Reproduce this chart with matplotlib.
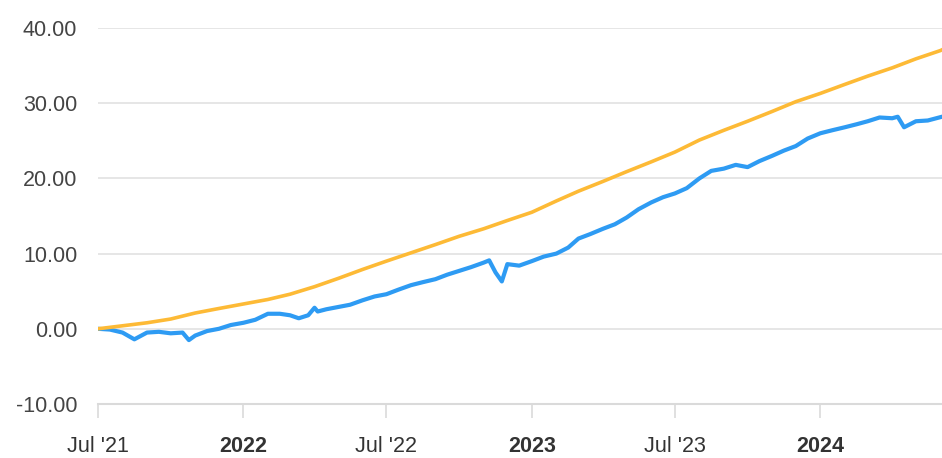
import matplotlib
matplotlib.use("Agg")
import matplotlib.pyplot as plt
import pandas as pd

plt.rcParams['font.family'] = ['Liberation Sans', 'DejaVu Sans']

# blue series
blue_dates = ["2021-07-01", "2021-07-16", "2021-08-01", "2021-08-16", "2021-09-01", "2021-09-16",
              "2021-10-01", "2021-10-16", "2021-10-24", "2021-11-01", "2021-11-16", "2021-12-01",
              "2021-12-16", "2022-01-01", "2022-01-16", "2022-02-01", "2022-02-16", "2022-03-01",
              "2022-03-12", "2022-03-24", "2022-04-01", "2022-04-05", "2022-04-16", "2022-05-01",
              "2022-05-16", "2022-06-01", "2022-06-16", "2022-07-01", "2022-07-16", "2022-08-01",
              "2022-08-16", "2022-09-01", "2022-09-16", "2022-10-01", "2022-10-16", "2022-11-01",
              "2022-11-08", "2022-11-16", "2022-11-24", "2022-12-01", "2022-12-16", "2023-01-01",
              "2023-01-16", "2023-02-01", "2023-02-16", "2023-03-01", "2023-03-16", "2023-04-01",
              "2023-04-16", "2023-05-01", "2023-05-16", "2023-06-01", "2023-06-16", "2023-07-01",
              "2023-07-16", "2023-08-01", "2023-08-16", "2023-09-01", "2023-09-16", "2023-10-01",
              "2023-10-16", "2023-11-01", "2023-11-16", "2023-12-01", "2023-12-16", "2024-01-01",
              "2024-01-16", "2024-02-01", "2024-02-16", "2024-03-01", "2024-03-16", "2024-04-01",
              "2024-04-08", "2024-04-16", "2024-05-01", "2024-05-16", "2024-06-03"]
blue_vals = [0.0, -0.1, -0.5, -1.4, -0.5, -0.4,
             -0.6, -0.5, -1.5, -0.9, -0.3, 0.0,
             0.5, 0.8, 1.2, 2.0, 2.0, 1.8,
             1.4, 1.8, 2.8, 2.3, 2.6, 2.9,
             3.2, 3.8, 4.3, 4.6, 5.2, 5.8,
             6.2, 6.6, 7.2, 7.7, 8.2, 8.8,
             9.1, 7.5, 6.3, 8.6, 8.4, 9.0,
             9.6, 10.0, 10.8, 12.0, 12.6, 13.3,
             13.9, 14.8, 15.9, 16.8, 17.5, 18.0,
             18.7, 20.0, 21.0, 21.3, 21.8, 21.5,
             22.3, 23.0, 23.7, 24.3, 25.3, 26.0,
             26.4, 26.8, 27.2, 27.6, 28.1, 28.0,
             28.2, 26.8, 27.6, 27.7, 28.2]

# orange series, monthly
orange_dates = pd.date_range("2021-07-01", "2024-06-01", freq="MS").tolist() + [pd.Timestamp("2024-06-03")]
orange_vals = [0.0, 0.4, 0.8, 1.3, 2.1, 2.7, 3.3, 3.9, 4.6, 5.6, 6.7, 7.9,
               9.0, 10.1, 11.2, 12.3, 13.3, 14.4, 15.5, 17.0, 18.3, 19.6, 20.9, 22.2,
               23.5, 25.1, 26.4, 27.6, 28.9, 30.2, 31.3, 32.5, 33.6, 34.7, 35.9, 37.0, 37.1]

tick_dates = ["2021-07-01", "2022-01-01", "2022-07-01", "2023-01-01", "2023-07-01", "2024-01-01"]
tick_labels = ["Jul '21", "2022", "Jul '22", "2023", "Jul '23", "2024"]
y_ticks = [-10, 0, 10, 20, 30, 40]

fig = plt.figure(figsize=(9.42, 4.58), dpi=100)
ax = fig.add_axes([98/942, 54/458, 844/942, 376/458])

ax.plot(pd.to_datetime(blue_dates), blue_vals, color='#2E9BF3', lw=3.0, zorder=3,
        solid_joinstyle='round')
ax.plot(orange_dates, orange_vals, color='#FDBA36', lw=2.6, zorder=4)

ax.set_xlim(pd.Timestamp("2021-07-01"), pd.Timestamp("2024-06-03"))
ax.set_ylim(-10, 40)
ax.set_yticks(y_ticks)
ax.set_yticklabels([f"{v:.2f}" for v in y_ticks])
ax.yaxis.grid(True, color='#e1e1e1', lw=1.2)
ax.set_axisbelow(True)

ax.set_xticks(pd.to_datetime(tick_dates))
ax.set_xticklabels(tick_labels)
for lab in ax.get_xticklabels():
    if not lab.get_text().startswith("Jul"):
        lab.set_fontweight('bold')

for s in ['top', 'right', 'left']:
    ax.spines[s].set_visible(False)
ax.spines['bottom'].set_color('#dadada')
ax.spines['bottom'].set_linewidth(1.5)

ax.tick_params(axis='y', length=0, pad=15, labelsize=15.5, labelcolor='#444444')
ax.tick_params(axis='x', length=10, width=1.2, color='#dadada', pad=13,
               labelsize=15.5, labelcolor='#333333')

fig.savefig("out.png", dpi=100)
